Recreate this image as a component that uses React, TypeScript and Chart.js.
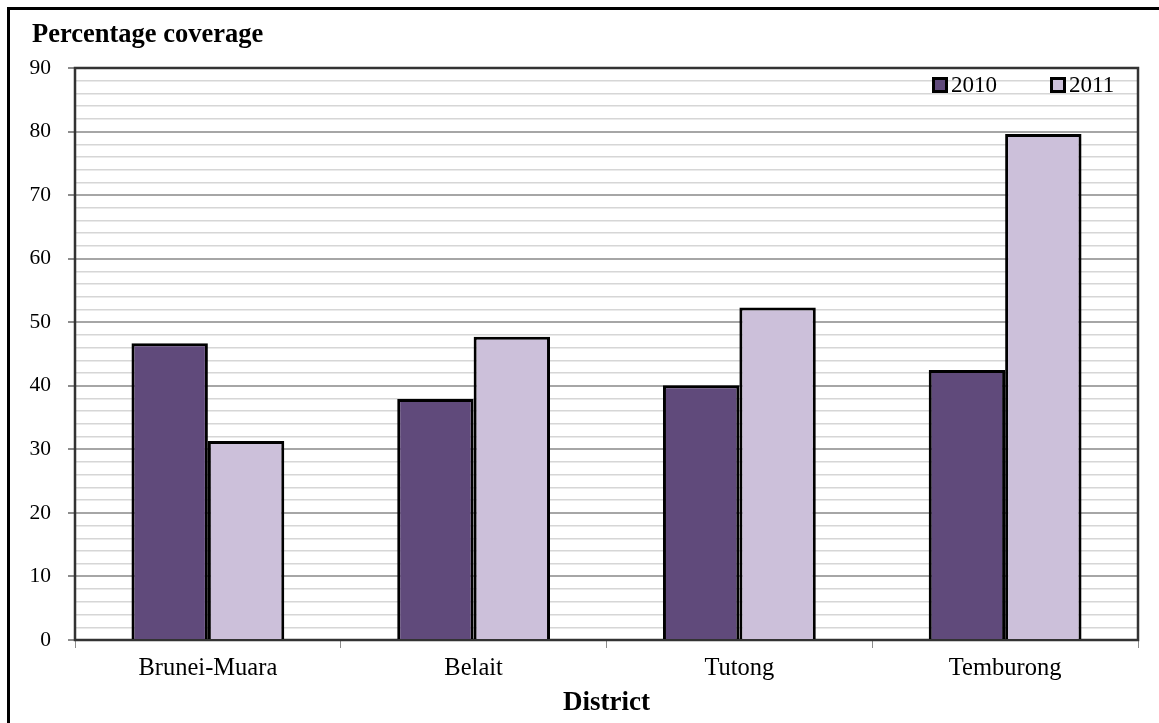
import React, { useEffect, useRef } from "react";
import { Chart, registerables } from "chart.js";

Chart.register(...registerables);

const districts = ["Brunei-Muara", "Belait", "Tutong", "Temburong"];
const series2010 = [46.7, 37.9, 40.1, 42.5];
const series2011 = [31.3, 47.7, 52.3, 79.6];
const seriesLabels = ["2010", "2011"];
const seriesColors = ["#604a7b", "#ccc0da"];
const yTitle = "Percentage coverage";
const xTitle = "District";

const SERIF = "'Liberation Serif', 'Times New Roman', serif";

const framePlugin = {
  id: "framePlugin",
  beforeDatasetsDraw(chart: any) {
    const { ctx, chartArea } = chart;
    ctx.save();
    ctx.strokeStyle = "#333";
    ctx.lineWidth = 2.5;
    ctx.strokeRect(chartArea.left, chartArea.top, chartArea.right - chartArea.left, chartArea.bottom - chartArea.top);
    ctx.restore();
  },
  afterDraw(chart: any) {
    const { ctx } = chart;
    ctx.save();
    // outer frame
    ctx.strokeStyle = "#000";
    ctx.lineWidth = 3;
    ctx.strokeRect(8.5, 8.5, 1200, 800);
    // y title
    ctx.fillStyle = "#000";
    ctx.font = `bold 26.5px ${SERIF}`;
    ctx.textBaseline = "alphabetic";
    ctx.textAlign = "left";
    ctx.fillText(yTitle, 32, 42);
    // legend
    const items = [
      { x: 932, label: seriesLabels[0], color: seriesColors[0] },
      { x: 1050, label: seriesLabels[1], color: seriesColors[1] },
    ];
    const cy = 85;
    ctx.font = `23px ${SERIF}`;
    ctx.textBaseline = "middle";
    for (const it of items) {
      ctx.fillStyle = it.color;
      ctx.fillRect(it.x + 1.5, cy - 6.5, 13, 13);
      ctx.strokeStyle = "#000";
      ctx.lineWidth = 3;
      ctx.strokeRect(it.x + 1.5, cy - 6.5, 13, 13);
      ctx.fillStyle = "#000";
      ctx.fillText(it.label, it.x + 19, cy + 1);
    }
    ctx.restore();
  },
};

export default function App() {
  const ref = useRef<HTMLCanvasElement | null>(null);
  useEffect(() => {
    document.body.style.margin = "0";
    const canvas = ref.current;
    if (!canvas) return;
    const chart = new Chart(canvas, {
      type: "bar",
      data: {
        labels: districts,
        datasets: [
          {
            label: seriesLabels[0],
            data: series2010,
            backgroundColor: seriesColors[0],
            borderColor: "#000",
            borderWidth: 3,
            barPercentage: 1,
            categoryPercentage: 0.575,
          },
          {
            label: seriesLabels[1],
            data: series2011,
            backgroundColor: seriesColors[1],
            borderColor: "#000",
            borderWidth: 3,
            barPercentage: 1,
            categoryPercentage: 0.575,
          },
        ],
      },
      options: {
        responsive: false,
        animation: false,
        layout: { padding: { top: 68, right: 21, left: 0, bottom: 0 } },
        plugins: {
          legend: { display: false },
          tooltip: { enabled: false },
          title: { display: false },
        },
        scales: {
          x: {
            afterFit(scale: any) {
              scale.height = 83;
            },
            grid: {
              drawOnChartArea: false,
              drawTicks: true,
              tickLength: 8,
              color: "#8c8c8c",
              offset: true,
            },
            border: { display: false },
            ticks: {
              color: "#000",
              font: { family: SERIF, size: 24.5 },
              padding: 6,
            },
            title: {
              display: true,
              text: xTitle,
              color: "#000",
              font: { family: SERIF, size: 27, weight: "bold" },
              padding: { top: 0, bottom: 4 },
            },
          },
          y: {
            min: 0,
            max: 90,
            afterFit(scale: any) {
              scale.width = 75;
            },
            border: { display: false },
            grid: {
              tickLength: 7,
              color: (c: any) => (c.tick && c.tick.value % 10 === 0 ? "#a6a6a6" : "#d6d6d6"),
              lineWidth: (c: any) => (c.tick && c.tick.value % 10 === 0 ? 2 : 1.5),
              tickColor: (c: any) => (c.tick && c.tick.value % 10 === 0 ? "#8c8c8c" : "rgba(0,0,0,0)"),
            },
            ticks: {
              stepSize: 2,
              autoSkip: false,
              color: "#000",
              font: { family: SERIF, size: 21.5 },
              padding: 17,
              callback: (v: any) => (Number(v) % 10 === 0 ? String(v) : ""),
            },
          },
        },
      },
      plugins: [framePlugin],
    });
    return () => chart.destroy();
  }, []);
  return (
    <div style={{ width: 1159, height: 723, background: "#fff" }}>
      <canvas ref={ref} width={1159} height={723} style={{ display: "block" }} />
    </div>
  );
}
